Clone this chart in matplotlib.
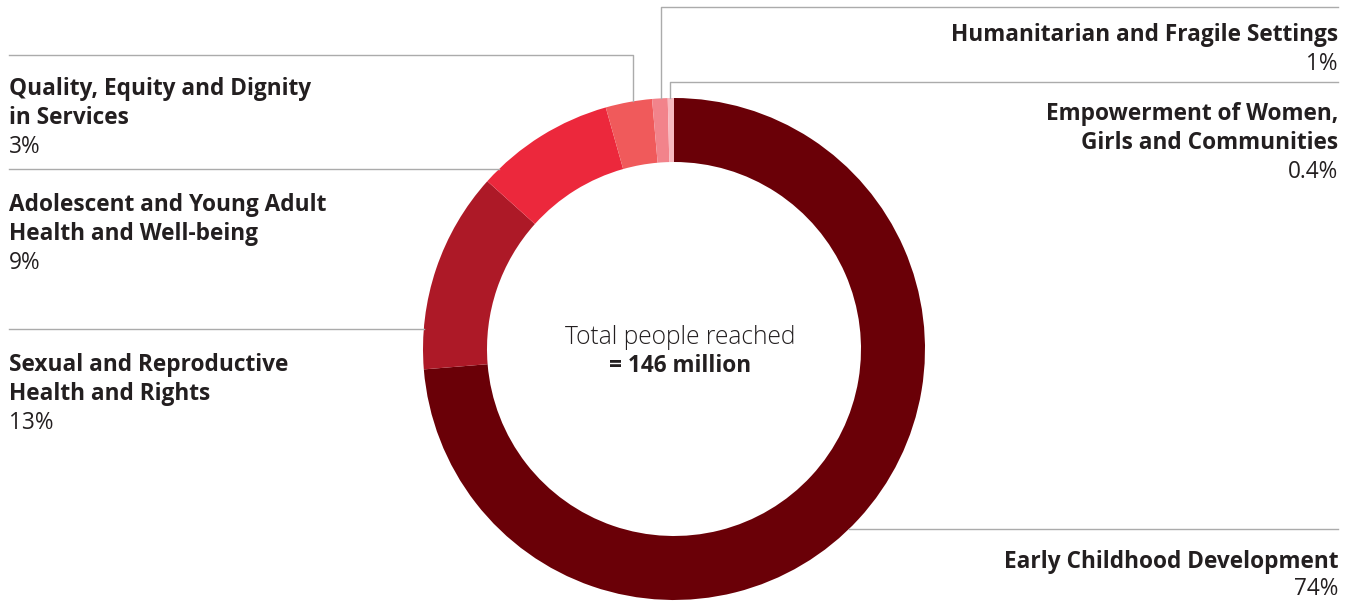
import matplotlib
matplotlib.use("Agg")
import matplotlib.pyplot as plt
import numpy as np

categories = [
    "Early Childhood Development",
    "Sexual and Reproductive\nHealth and Rights",
    "Adolescent and Young Adult\nHealth and Well-being",
    "Quality, Equity and Dignity\nin Services",
    "Humanitarian and Fragile Settings",
    "Empowerment of Women,\nGirls and Communities",
]
values = [74, 13, 9, 3, 1, 0.4]
pct_labels = ["74%", "13%", "9%", "3%", "1%", "0.4%"]
colors = ["#6a0007", "#ad1927", "#ec283c", "#f05a5b", "#f2838b", "#f8b9bf"]
center_title = "Total people reached"
center_value = "= 146 million"

W, H = 1356, 602
fig = plt.figure(figsize=(W / 100, H / 100), dpi=100)
ax = fig.add_axes([0, 0, 1, 1])

cx, cy_px, R, r_in = 674, 349, 251, 187
cy = H - cy_px
ax.pie(values, colors=colors, startangle=90, counterclock=False,
       center=(cx, cy), radius=R, frame=True,
       wedgeprops=dict(width=R - r_in, linewidth=0))
ax.set_xlim(0, W)
ax.set_ylim(0, H)
ax.set_aspect("equal")
ax.axis("off")

FONT = ["Open Sans", "DejaVu Sans"]
TXT = "#231f20"
LC = "#ababab"
LW = 1.0

def py(y):
    return H - y

def edge_y(x):
    return cy + np.sqrt(R**2 - (x - cx) ** 2)

def edge_x_left(y):
    return cx - np.sqrt(R**2 - (py(y) - cy) ** 2)

def edge_x_right(y):
    return cx + np.sqrt(R**2 - (py(y) - cy) ** 2)

# leader lines
ax.plot([1338, 661, 661], [py(7), py(7), edge_y(661)], color=LC, lw=LW)
ax.plot([1338, 670, 670], [py(82), py(82), edge_y(670)], color=LC, lw=LW)
ax.plot([9, 633, 633], [py(55), py(55), edge_y(633)], color=LC, lw=LW)
ax.plot([9, edge_x_left(169)], [py(169), py(169)], color=LC, lw=LW)
ax.plot([9, edge_x_left(329)], [py(329), py(329)], color=LC, lw=LW)
ax.plot([edge_x_right(529), 1338], [py(529), py(529)], color=LC, lw=LW)

FS = 16.3
LS = 29

def label(x, y_first, name, pct, ha, ls=LS):
    lines = name.split("\n")
    for i, ln in enumerate(lines):
        ax.text(x, py(y_first + i * ls), ln, ha=ha, va="center",
                fontsize=FS, fontweight="bold", color=TXT, family=FONT)
    ax.text(x, py(y_first + len(lines) * ls), pct, ha=ha, va="center",
            fontsize=FS, color=TXT, family=FONT)

label(1338, 562, categories[0], pct_labels[0], "right", ls=27)
label(9, 365, categories[1], pct_labels[1], "left")
label(9, 205, categories[2], pct_labels[2], "left")
label(9, 89, categories[3], pct_labels[3], "left")
label(1338, 35, categories[4], pct_labels[4], "right")
label(1338, 114, categories[5], pct_labels[5], "right")

ax.text(cx + 6, py(338), center_title, ha="center", va="center",
        fontsize=17.7, color=TXT, family=FONT, fontweight="light")
ax.text(cx + 6, py(366), center_value, ha="center", va="center",
        fontsize=FS, color=TXT, family=FONT, fontweight="bold")

fig.savefig("out.png", dpi=100)
